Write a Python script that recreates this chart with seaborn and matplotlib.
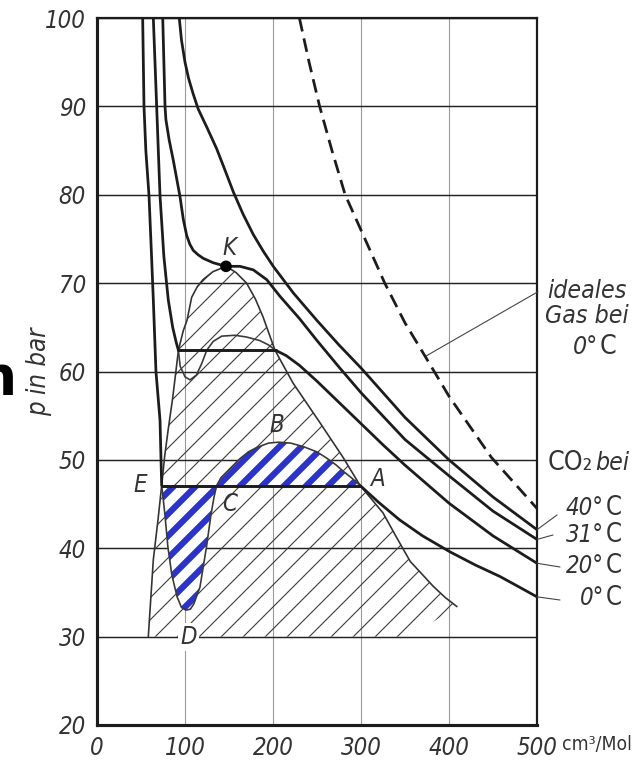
import seaborn as sns
import matplotlib.pyplot as plt

# molar volume in cm3/Mol and pressure in bar
# 0 C isotherm: liquid branch, van der Waals loop (E-D-C-B-A), gas branch
v_0_liq = [51.9, 53.4, 55.5, 59.1, 62.0, 64.0, 67.0, 71.6, 73.5]
p_0_liq = [100, 90, 85, 79.9, 73.0, 68.1, 60.0, 54.5, 47.1]
v_0_loop = [73.5, 77.0, 80.5, 85.0, 91.0, 96.0, 101, 106, 110, 117,
            124.5, 129.5, 133, 136, 141, 150, 162, 172, 181.5, 195,
            206, 220, 234.5, 250, 261, 272, 280, 290, 299]
p_0_loop = [47.1, 44.0, 40.2, 37.0, 34.5, 33.3, 33.0, 33.1, 33.7, 35.6,
            40.2, 43.8, 45.8, 47.1, 48.0, 48.9, 50.1, 50.9, 51.4, 51.9,
            52.0, 51.9, 51.5, 50.9, 50.2, 49.4, 48.7, 47.9, 47.1]
v_0_gas = [299, 320, 344, 370, 401, 430, 458, 480, 500]
p_0_gas = [47.1, 45.2, 43.2, 41.4, 39.6, 38.1, 36.8, 35.6, 34.5]
p_tie_0 = 47.1

# 20 C isotherm
v_20_liq = [64.0, 67.8, 71.6, 76.0, 81.0, 86.0, 90.0, 92.5]
p_20_liq = [100, 90, 79.9, 73.0, 68.1, 65.0, 63.3, 62.4]
v_20_loop = [92.5, 94.5, 100, 105.7, 113, 119, 124.7, 132, 141.7, 156.8,
             170, 185, 195, 203]
p_20_loop = [62.4, 60.6, 59.4, 59.05, 59.6, 60.9, 62.4, 63.4, 64.0, 64.1,
             63.9, 63.5, 63.0, 62.4]
v_20_gas = [203, 215, 230, 250, 275, 300, 325, 350, 400, 450, 500]
p_20_gas = [62.4, 61.8, 60.7, 58.9, 56.5, 54.1, 51.7, 49.4, 45.1, 41.4, 38.3]
p_tie_20 = 62.4

# 31 C (critical) isotherm, K = critical point
v_31 = [74.7, 76.0, 77.3, 78.3, 82.0, 86.7, 94.3, 98.1, 101.9, 105.5,
        109.4, 115.0, 120.8, 132.2, 146.6, 162.5, 177.6, 192.8, 208, 230,
        250, 275, 300, 350, 400, 450, 500]
p_31 = [100, 95.0, 90.0, 88.5, 86.2, 83.9, 79.8, 77.2, 75.4, 74.4,
        73.7, 73.2, 72.8, 72.3, 71.9, 71.9, 71.5, 70.4, 68.5, 66.0,
        63.5, 60.5, 57.6, 52.3, 48.2, 44.2, 41.0]
k_idx = 14

# 40 C isotherm
v_40 = [93.5, 96, 100, 104, 109, 115, 125, 136, 145, 155, 166, 177.6, 189,
        200.3, 223, 249.7, 275, 300, 350, 400, 450, 500]
p_40 = [100, 97.5, 95.0, 93.2, 91.5, 89.7, 87.6, 85.2, 82.9, 80.3, 77.8, 75.5, 73.6,
        71.9, 68.9, 65.8, 63.0, 60.4, 54.8, 50.0, 45.8, 42.1]

# ideal gas at 0 C (dashed)
v_ideal = [230, 241, 253, 267, 282, 300, 327, 350, 373, 400, 448, 500]
p_ideal = [100, 95, 90, 85, 80, 76, 70, 65.5, 61.7, 57.2, 50.3, 44.5]
ideal_lead = 373

# boundary of the hatched two-phase area
v_bin = [58.3, 64.0, 69.3, 73.5, 77.0, 81.0, 86.0, 90.0, 92.5, 98.0,
         102.3, 107.6, 114.0, 120.5, 131.8, 146.6, 158.0, 170.0, 180.0, 188.6,
         202.3, 222.7, 253.4, 279.5, 299.0, 325.0, 340.0, 356.0, 370.0, 382.0,
         396.0, 409.0]
p_bin = [30.0, 38.7, 43.2, 47.1, 50.5, 53.5, 57.0, 60.3, 62.4, 64.6,
         65.8, 68.4, 69.6, 70.4, 71.3, 71.9, 71.2, 70.0, 68.2, 66.2,
         62.4, 58.7, 54.2, 50.3, 47.1, 44.0, 41.3, 38.5, 37.0, 35.7,
         34.4, 33.4]
hatch_floor = 30
hatch_end_v = 356

x_ticks = [0, 100, 200, 300, 400, 500]
y_ticks = [20, 30, 40, 50, 60, 70, 80, 90, 100]

W, H, DPI = 632, 760, 132
ink = '#1c1c1c'
txt = '#333333'
blue = '#2b33c9'

sns.set_theme(style='white')
# narrow lettering like the drawing; falls back to DejaVu Sans (condensed if present)
plt.rcParams['font.family'] = ['Liberation Sans Narrow', 'DejaVu Sans']
plt.rcParams['font.stretch'] = 'condensed'

fig, ax = plt.subplots(figsize=(W / DPI, H / DPI), dpi=DPI)
fig.subplots_adjust(left=97 / W, right=537 / W, bottom=35 / H, top=1 - 18 / H)

# hatched area
plt.rcParams['hatch.linewidth'] = 0.6
hatched = ax.fill(v_bin + [hatch_end_v], p_bin + [hatch_floor],
                  facecolor='none', edgecolor='#3a3a3a', hatch='//', lw=0, zorder=1)[0]
if hasattr(hatched, 'set_hatch_linewidth'):
    hatched.set_hatch_linewidth(0.6)

# blue striped areas between the loop and the tie line E-A
plt.rcParams['hatch.linewidth'] = 3.4
striped = ax.fill(v_0_loop, p_0_loop, facecolor='white', edgecolor=blue,
                  hatch='//', lw=0, zorder=2)[0]
if hasattr(striped, 'set_hatch_linewidth'):
    striped.set_hatch_linewidth(3.4)


def curve(v, p, lw=1.5, color=ink, **kw):
    sns.lineplot(x=v, y=p, sort=False, estimator=None, color=color, lw=lw,
                 ax=ax, zorder=4, **kw)


curve(v_bin, p_bin, lw=0.9, color='#333333')
curve(v_0_liq, p_0_liq)
curve(v_0_loop, p_0_loop, lw=0.9, color='#3a3a3a')
curve(v_0_gas, p_0_gas)
curve([v_0_loop[0], v_0_loop[-1]], [p_tie_0, p_tie_0], lw=1.6)
curve(v_20_liq, p_20_liq)
curve(v_20_loop, p_20_loop, lw=0.9, color='#3a3a3a')
curve(v_20_gas, p_20_gas)
curve([v_20_loop[0], v_20_loop[-1]], [p_tie_20, p_tie_20], lw=1.6)
curve(v_31, p_31)
curve(v_40, p_40)
curve(v_ideal, p_ideal, linestyle=(0, (5, 2.6)))
sns.scatterplot(x=[v_31[k_idx]], y=[p_31[k_idx]], s=40, color='black',
                edgecolor='none', zorder=5, ax=ax)

ax.set_xlim(0, 500)
ax.set_ylim(20, 100)
ax.set_xticks(x_ticks)
ax.set_yticks(y_ticks)
ax.set_axisbelow(True)
ax.grid(axis='y', color='#222222', lw=0.8)
ax.grid(axis='x', color='#9a9a9a', lw=0.6)
for side, lw in [('left', 1.7), ('bottom', 1.7), ('top', 1.2), ('right', 1.2)]:
    ax.spines[side].set_visible(True)
    ax.spines[side].set_color(ink)
    ax.spines[side].set_linewidth(lw)
ax.tick_params(length=0, labelsize=13, labelcolor=txt)
ax.tick_params(axis='y', pad=6)
ax.tick_params(axis='x', pad=6)
for lab in ax.get_xticklabels() + ax.get_yticklabels():
    lab.set_style('italic')
ax.set_xlabel('')
ax.set_ylabel('p in bar', fontsize=14, style='italic', color=txt)
ax.yaxis.set_label_coords(-0.102, 0.5)

# point letters
letter = dict(fontsize=13, style='italic', color=txt, ha='center', va='center', zorder=6)
ax.text(151, 74.0, 'K', **letter)
ax.text(204, 53.9, 'B', **letter)
ax.text(319, 47.8, 'A', **letter)
ax.text(151, 45.0, 'C', **letter)
ax.text(48.9, 47.2, 'E', **letter)
ax.text(104, 30, 'D', bbox=dict(facecolor='white', edgecolor='none', pad=1), **letter)


def fig_txt(x, y, s, **kw):
    fig.text(x / W, 1 - y / H, s, color=txt, va='center', **kw)


it = dict(fontsize=13.5, style='italic')
up = dict(fontsize=14.5)
fig_txt(547, 291, 'ideales', ha='left', **it)
fig_txt(545, 316, 'Gas bei', ha='left', **it)
fig_txt(598, 347, '0°', ha='right', **it)
fig_txt(600, 347, 'C', ha='left', **up)
fig_txt(548, 463, 'CO₂', ha='left', **up)
fig_txt(595, 463, 'bei', ha='left', **it)
for label, y in [('40°', 508), ('31°', 535), ('20°', 566), ('0°', 598)]:
    fig_txt(604, y, label, ha='right', fontsize=13, style='italic')
    fig_txt(606, y, 'C', ha='left', fontsize=14)
fig_txt(562, 745, 'cm³/Mol', ha='left', fontsize=10.5)

# leader lines from labels to curve ends
lead = dict(arrowstyle='-', lw=0.6, color='#444444', shrinkA=0, shrinkB=0)
for end_p, (tx, ty) in [(p_40[-1], (557, 515)), (p_31[-1], (553, 535)),
                        (p_20_gas[-1], (560, 567)), (p_0_gas[-1], (560, 600))]:
    ax.annotate('', xy=(500, end_p), xycoords='data', xytext=(tx, H - ty),
                textcoords='figure pixels', arrowprops=lead, annotation_clip=False)
i_lead = v_ideal.index(ideal_lead)
ax.annotate('', xy=(v_ideal[i_lead], p_ideal[i_lead]), xycoords='data',
            xytext=(538, H - 291.7), textcoords='figure pixels', arrowprops=lead,
            annotation_clip=False)

# clipped letter at the left edge of the slide
fig.text(16 / W, 1 - 380 / H, 'n', ha='right', va='center', fontsize=30,
         fontweight='bold', family='DejaVu Sans', stretch='normal', color='black')

fig.savefig('out.png', dpi=DPI)
